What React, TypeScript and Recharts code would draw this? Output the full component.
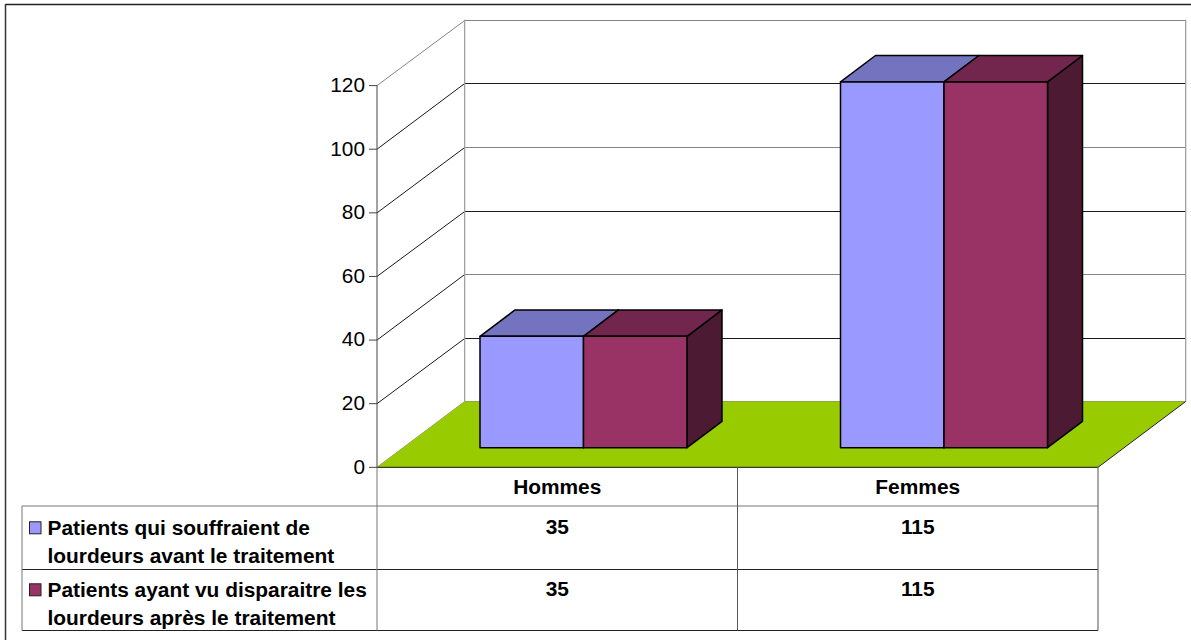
import { BarChart, Bar, XAxis, YAxis, CartesianGrid, Customized } from 'recharts';

const categories = ['Hommes', 'Femmes'];
const avantValues = [35, 115];
const apresValues = [35, 115];
const yTicks = [0, 20, 40, 60, 80, 100, 120];
const avantLabel = ['Patients qui souffraient de', 'lourdeurs avant le traitement'];
const apresLabel = ['Patients ayant vu disparaitre les', 'lourdeurs après le traitement'];

const data = categories.map((name, i) => ({ name, avant: avantValues[i], apres: apresValues[i] }));

const WIDTH = 1191;
const HEIGHT = 640;
const PLOT = { left: 377, right: 1098, top: 85.6, bottom: 467.3 };
// offset from front of the floor to back wall
const WALL_DX = 87.7;
const WALL_DY = 65.8;
// bars stand part way into the floor
const BAR_DX = 26;
const BAR_DY = 19.6;
const DEPTH_DX = 35;
const DEPTH_DY = 26.4;

const FONT = '"Liberation Sans", Arial, sans-serif';
const TABLE_FONT_SIZE = 20.9;
const GRID_DARK = '#1a1a1a';
const GRID_GREY = '#858585';

const pts = (list: number[][]) => list.map((p) => p.join(',')).join(' ');

const Box3D = (props: any) => {
  const { x, y, width, height, fill, topFill, sideFill } = props;
  const l = x + BAR_DX;
  const r = l + width;
  const t = y - BAR_DY;
  const b = t + height;
  return (
    <g stroke="#000" strokeWidth={1.5} strokeLinejoin="round">
      <polygon fill={sideFill} points={pts([[r, t], [r + DEPTH_DX, t - DEPTH_DY], [r + DEPTH_DX, b - DEPTH_DY], [r, b]])} />
      <polygon fill={topFill} points={pts([[l, t], [l + DEPTH_DX, t - DEPTH_DY], [r + DEPTH_DX, t - DEPTH_DY], [r, t]])} />
      <rect x={l} y={t} width={width} height={height} fill={fill} />
    </g>
  );
};

const GridLine = (props: any) => {
  const { x1, x2, y1 } = props;
  const wy = Math.round(y1 - WALL_DY) + 0.5;
  const value = Math.round(((PLOT.bottom - y1) / (PLOT.bottom - PLOT.top)) * 120);
  const outer = value === 0 || value === 120;
  // the source picture was rescaled, so every other wall line came out grey
  const colour = outer || value % 40 === 0 ? GRID_GREY : GRID_DARK;
  return (
    <g fill="none">
      <line x1={x1} y1={y1} x2={x1 + WALL_DX} y2={wy} stroke={outer ? GRID_GREY : GRID_DARK} strokeWidth={1} />
      <line x1={x1 + WALL_DX} y1={wy} x2={x2 + WALL_DX} y2={wy} stroke={colour} strokeWidth={1} />
    </g>
  );
};

const Floor = () => (
  <g>
    <polygon
      fill="#99CC00"
      points={pts([
        [PLOT.left, PLOT.bottom],
        [PLOT.left + WALL_DX, PLOT.bottom - WALL_DY],
        [PLOT.right + WALL_DX, PLOT.bottom - WALL_DY],
        [PLOT.right, PLOT.bottom],
      ])}
    />
    <line x1={PLOT.left + WALL_DX} y1={PLOT.top - WALL_DY} x2={PLOT.left + WALL_DX} y2={PLOT.bottom - WALL_DY} stroke="#999" strokeWidth={1.2} />
    <line x1={PLOT.right + WALL_DX} y1={PLOT.top - WALL_DY} x2={PLOT.right + WALL_DX} y2={PLOT.bottom - WALL_DY} stroke="#999" strokeWidth={1.2} />
    <line x1={PLOT.right + WALL_DX} y1={PLOT.bottom - WALL_DY} x2={PLOT.right} y2={PLOT.bottom} stroke="#222" strokeWidth={1} />
  </g>
);

const TABLE = { left: 22, mid: 737.5, header: 506, row: 569.5, bottom: 630.5 };

const LegendCell = ({ lines, y, colour }: { lines: string[]; y: number; colour: string }) => (
  <g>
    <rect x={29.5} y={y - 13} width={11.5} height={12} fill={colour} stroke="#222" strokeWidth={1} />
    {lines.map((line, i) => (
      <text key={line} x={47.5} y={y + i * 28.3} fontFamily={FONT} fontWeight="bold" fontSize={TABLE_FONT_SIZE} fill="#000">
        {line}
      </text>
    ))}
  </g>
);

const DataTable = () => {
  const centers = categories.map((_, i) => PLOT.left + ((PLOT.right - PLOT.left) * (i + 0.5)) / categories.length);
  const cell = { fontFamily: FONT, fontWeight: 'bold', fontSize: TABLE_FONT_SIZE, fill: '#000', textAnchor: 'middle' as const };
  return (
    <g>
      <g fill="none" strokeWidth={1}>
        <line x1={5.5} y1={4.5} x2={WIDTH} y2={4.5} stroke="#222" strokeWidth={1.5} />
        <line x1={5.5} y1={4} x2={5.5} y2={HEIGHT} stroke="#333" strokeWidth={1.5} />
        <line x1={PLOT.left} y1={PLOT.bottom} x2={PLOT.right} y2={PLOT.bottom} stroke="#111" />
        <line x1={TABLE.left} y1={TABLE.header} x2={PLOT.right} y2={TABLE.header} stroke="#777" />
        <line x1={TABLE.left} y1={TABLE.row} x2={PLOT.right} y2={TABLE.row} stroke="#222" />
        <line x1={TABLE.left} y1={TABLE.bottom} x2={PLOT.right} y2={TABLE.bottom} stroke="#222" />
        <line x1={TABLE.left} y1={TABLE.header} x2={TABLE.left} y2={TABLE.bottom} stroke="#777" />
        <line x1={PLOT.left} y1={PLOT.bottom} x2={PLOT.left} y2={TABLE.bottom} stroke="#777" />
        <line x1={TABLE.mid} y1={PLOT.bottom} x2={TABLE.mid} y2={TABLE.bottom} stroke="#555" />
        <line x1={PLOT.right} y1={PLOT.bottom} x2={PLOT.right} y2={TABLE.bottom} stroke="#555" />
      </g>
      <LegendCell lines={avantLabel} y={534.8} colour="#9999FF" />
      <LegendCell lines={apresLabel} y={596.8} colour="#993366" />
      {avantValues.map((v, i) => (
        <text key={`avant-${i}`} x={centers[i]} y={534} {...cell}>
          {v}
        </text>
      ))}
      {apresValues.map((v, i) => (
        <text key={`apres-${i}`} x={centers[i]} y={596} {...cell}>
          {v}
        </text>
      ))}
    </g>
  );
};

const CategoryTick = ({ x, payload }: any) => (
  <text x={x} y={494} textAnchor="middle" fontFamily={FONT} fontWeight="bold" fontSize={TABLE_FONT_SIZE} fill="#000">
    {payload.value}
  </text>
);

export default function App() {
  return (
    <div style={{ position: 'absolute', left: 0, top: 0, width: WIDTH, height: HEIGHT, background: '#fff' }}>
      <BarChart
        width={WIDTH}
        height={HEIGHT}
        data={data}
        margin={{ top: PLOT.top, right: WIDTH - PLOT.right, bottom: HEIGHT - PLOT.bottom - 40, left: 0 }}
        barSize={103.5}
        barGap={0}
      >
        <Customized component={Floor} />
        <CartesianGrid vertical={false} horizontal={(p: any) => <GridLine key={p.index} {...p} />} />
        <XAxis dataKey="name" height={40} axisLine={false} tickLine={false} tick={<CategoryTick />} interval={0} />
        <YAxis
          width={PLOT.left}
          domain={[0, 120]}
          ticks={yTicks}
          interval={0}
          tickSize={8}
          tickMargin={4}
          stroke="#444"
          tick={{ fontFamily: FONT, fontSize: 20.8, fill: '#000', dy: -1 }}
        />
        <Bar
          dataKey="avant"
          fill="#9999FF"
          isAnimationActive={false}
          shape={(p: any) => <Box3D {...p} topFill="#7373BF" sideFill="#4D4D80" />}
        />
        <Bar
          dataKey="apres"
          fill="#993366"
          isAnimationActive={false}
          shape={(p: any) => <Box3D {...p} topFill="#73264D" sideFill="#4D1A33" />}
        />
        <Customized component={DataTable} />
      </BarChart>
    </div>
  );
}
